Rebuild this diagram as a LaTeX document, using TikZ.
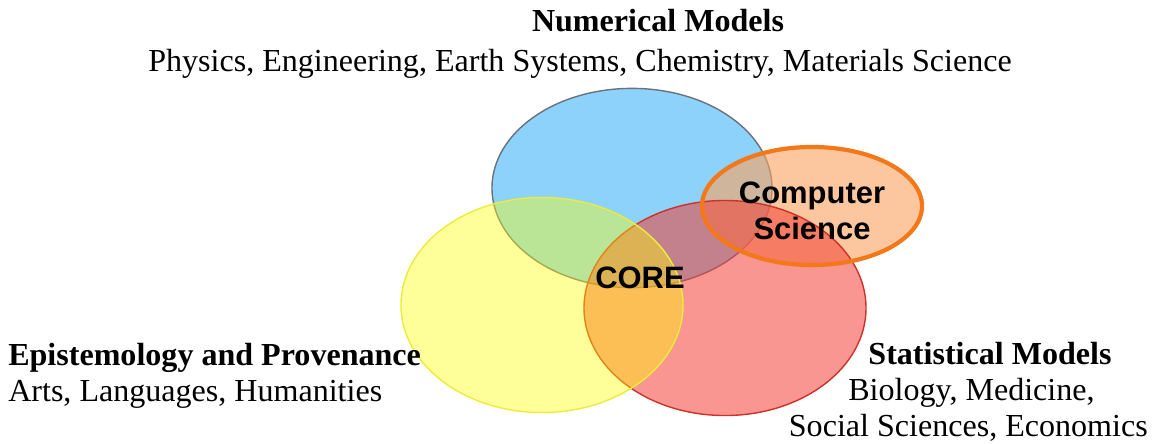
\documentclass[tikz,border=0pt]{standalone}
\usepackage{fontspec}
\setmainfont{Liberation Serif}
\newfontfamily\cssans{Liberation Sans}
\usetikzlibrary{shapes.geometric}
\definecolor{numblue}{RGB}{140,210,250}
\definecolor{numline}{RGB}{105,115,125}
\definecolor{epiyellow}{RGB}{255,255,0}
\definecolor{epiline}{RGB}{236,236,60}
\definecolor{statred}{RGB}{243,61,51}
\definecolor{statline}{RGB}{205,50,40}
\definecolor{csorange}{RGB}{250,162,94}
\definecolor{csline}{RGB}{242,120,25}
\begin{document}
\begin{tikzpicture}[x=0.025cm,y=-0.025cm, field/.style={ellipse,draw,line width=1pt,inner sep=0pt},txt/.style={font=\fontsize{22.8}{28}\selectfont,inner sep=0pt},core/.style={font=\cssans\bfseries\fontsize{22}{26}\selectfont,align=center,inner sep=0pt}]
            \useasboundingbox (0,0) rectangle (1160,443);
            \node[field,fill=numblue,draw=numline,minimum width=7cm,minimum height=4.98cm] (num) at (632,188) {};
            \node[field,draw=none,fill=csorange,fill opacity=0.6,minimum width=5.5cm,minimum height=2.95cm] (cs) at (812,206) {};
            \node[field,fill=statred,fill opacity=0.54,draw=statline,minimum width=7.05cm,minimum height=5.375cm] (stat) at (725,308) {};
            \node[field,fill=epiyellow,fill opacity=0.4,draw=epiline,minimum width=7.05cm,minimum height=5.375cm] (epi) at (542,305) {};
            \draw[csline,line width=3pt] (cs.center) ellipse [x radius=2.75cm, y radius=1.475cm];

            \node[core] (corelbl) at (640,278) {CORE};
            \node[core] (cslbl) at (812,211) {Computer\\Science};

            \node[txt,anchor=base,font=\fontsize{22.8}{28}\selectfont\bfseries] (numhead) at (658,31) {Numerical Models};
            \node[txt,anchor=base] (numsub) at (580,71) {Physics, Engineering, Earth Systems, Chemistry, Materials Science};
            \node[txt,anchor=base west,font=\fontsize{22.8}{28}\selectfont\bfseries] (epihead) at (8,365) {Epistemology and Provenance};
            \node[txt,anchor=base west] (episub) at (8,401) {Arts, Languages, Humanities};
            \node[txt,anchor=base,font=\fontsize{22.8}{28}\selectfont\bfseries] (stathead) at (990,364) {Statistical Models};
            \node[txt,anchor=base west] (statsub) at (848,400) {Biology, Medicine,};
            \node[txt,anchor=base east] (statsub2) at (1148,436) {Social Sciences, Economics};
          \end{tikzpicture}
\end{document}
